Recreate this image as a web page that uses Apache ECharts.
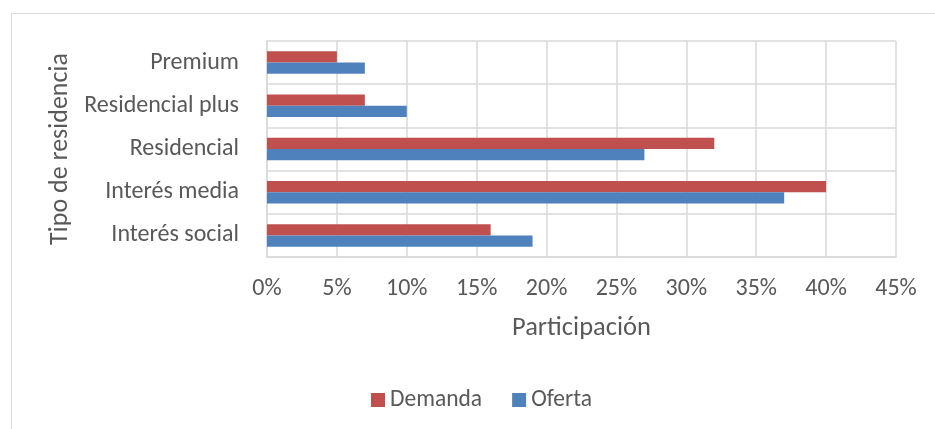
<!DOCTYPE html>
<html>
<head>
<meta charset="utf-8">
<script src="https://cdn.jsdelivr.net/npm/echarts@6/dist/echarts.min.js"></script>
<style>
html,body{margin:0;padding:0;background:#fff;}
#chart{width:935px;height:429px;}
</style>
</head>
<body>
<div id="chart"></div>
<script>
const categories = ['Interés social', 'Interés media', 'Residencial', 'Residencial plus', 'Premium'];
const demanda = [16, 40, 32, 7, 5];
const oferta = [19, 37, 27, 10, 7];
const xTicks = [0, 5, 10, 15, 20, 25, 30, 35, 40, 45];

const FONT = 'Carlito, Lato, "Open Sans", sans-serif';
const TXT = '#595959';
const GRID = '#D9D9D9';

const chart = echarts.init(document.getElementById('chart'));
chart.setOption({
  animation: false,
  textStyle: { fontFamily: FONT },
  graphic: [{
    type: 'rect', left: 9, top: 11,
    shape: { width: 1000, height: 500 },
    style: { fill: 'none', stroke: GRID, lineWidth: 1 },
    silent: true
  }],
  grid: { left: 267, top: 41, width: 629, height: 216, containLabel: false },
  legend: {
    data: ['Demanda', 'Oferta'],
    left: 366, top: 383,
    itemWidth: 14, itemHeight: 14, itemGap: 30,
    icon: 'rect',
    textStyle: { color: TXT, fontSize: 23.5, fontFamily: FONT }
  },
  xAxis: {
    type: 'value',
    min: xTicks[0], max: xTicks[xTicks.length - 1], interval: 5,
    name: 'Participación', nameLocation: 'middle', nameGap: 58,
    nameTextStyle: { color: TXT, fontSize: 26.5, fontFamily: FONT },
    axisLine: { show: true, lineStyle: { color: GRID, width: 1.5 } },
    axisTick: { show: false },
    axisLabel: { color: TXT, fontSize: 24, margin: 20, fontFamily: FONT, formatter: v => v + '%' },
    splitLine: { show: true, lineStyle: { color: GRID, width: 1.5 } }
  },
  yAxis: {
    type: 'category', data: categories,
    name: 'Tipo de residencia', nameLocation: 'middle', nameGap: 194, nameRotate: 90,
    nameTextStyle: { color: TXT, fontSize: 26, fontFamily: FONT },
    axisLine: { show: true, lineStyle: { color: GRID, width: 1.5 } },
    axisTick: { show: false },
    axisLabel: { color: TXT, fontSize: 24, margin: 28, fontFamily: FONT },
    splitLine: { show: true, lineStyle: { color: GRID, width: 1.5 } }
  },
  series: [
    { name: 'Demanda', type: 'bar', data: demanda, barGap: '0%', barCategoryGap: '48%',
      itemStyle: { color: '#C0504D' } },
    { name: 'Oferta', type: 'bar', data: oferta, barGap: '0%', barCategoryGap: '48%',
      itemStyle: { color: '#4F81BD' } }
  ]
});
</script>
</body>
</html>
